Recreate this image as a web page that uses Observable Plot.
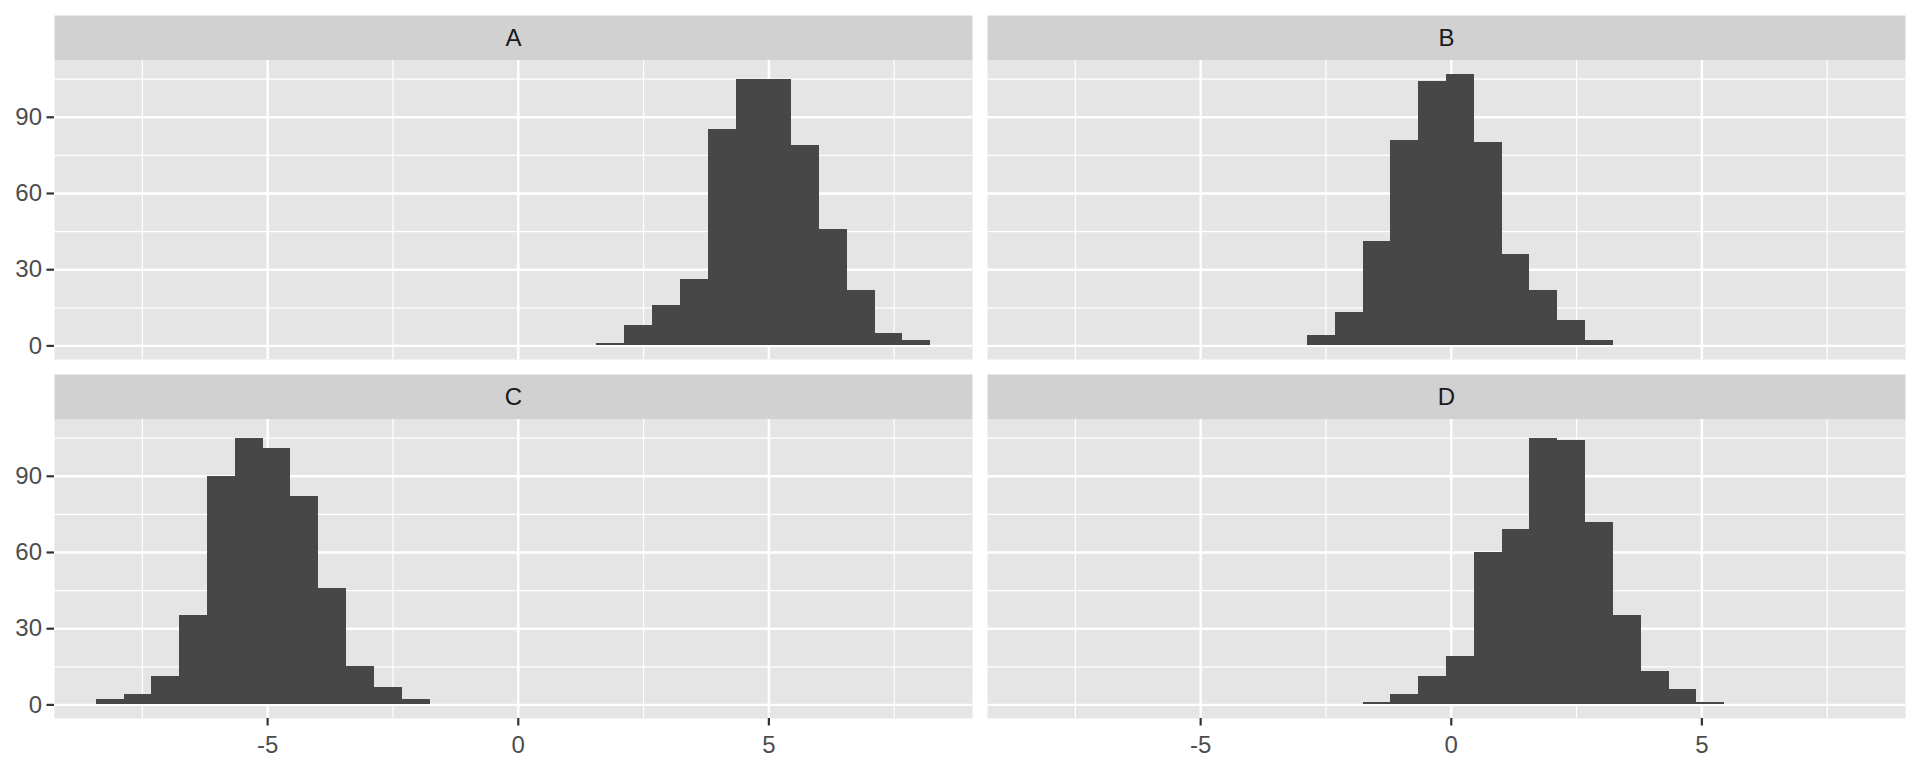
<!DOCTYPE html>
<html>
<head>
<meta charset="utf-8">
<script src="https://cdn.jsdelivr.net/npm/d3@7"></script>
<script src="https://cdn.jsdelivr.net/npm/@observablehq/plot@0.6"></script>
<style>
  html, body { margin: 0; padding: 0; background: #ffffff; }
  #chart svg { display: block; }
</style>
</head>
<body>
<div id="chart"></div>
<script>
// ---- data ----
const panels = ["A", "B", "C", "D"];
const panelCol = [0, 1, 0, 1];
const panelRow = [0, 0, 1, 1];

// shared histogram bin edges (30 bins)
const binEdges = [
  -8.420, -7.865, -7.310, -6.755, -6.200, -5.645, -5.090, -4.535, -3.980, -3.425,
  -2.870, -2.315, -1.760, -1.205, -0.650, -0.095, 0.460, 1.015, 1.570, 2.125,
  2.680, 3.235, 3.790, 4.345, 4.900, 5.455, 6.010, 6.565, 7.120, 7.675, 8.230
];

const countsA = [0,0,0,0,0,0,0,0,0,0, 0,0,0,0,0,0,0,0, 1,8,16,26,85,105,105,79,46,22,5,2];
const countsB = [0,0,0,0,0,0,0,0,0,0, 4,13,41,81,104,107,80,36,22,10,2, 0,0,0,0,0,0,0,0,0];
const countsC = [2,4,11,35,90,105,101,82,46,15,7,2, 0,0,0,0,0,0,0,0,0,0,0,0,0,0,0,0,0,0];
const countsD = [0,0,0,0,0,0,0,0,0,0,0,0, 1,4,11,19,60,69,105,104,72,35,13,6,1, 0,0,0,0,0];

const xTicks = [-5, 0, 5];
const xMinor = [-7.5, -2.5, 2.5, 7.5];
const yTicks = [0, 30, 60, 90];
const yMinor = [15, 45, 75, 105];

// ---- build tables ----
const countsByPanel = [countsA, countsB, countsC, countsD];
const bars = [];
panels.forEach((p, k) => {
  countsByPanel[k].forEach((c, i) => {
    if (c > 0) bars.push({panel: p, col: panelCol[k], row: panelRow[k], x1: binEdges[i], x2: binEdges[i + 1], count: c});
  });
});
const strips = panels.map((p, k) => ({panel: p, col: panelCol[k], row: panelRow[k]}));

// ggplot-like 5% expansion
const xLo = binEdges[0], xHi = binEdges[binEdges.length - 1];
const xPad = 0.05 * (xHi - xLo);
const yMax = d3.max(countsByPanel.flat());
const yPad = 0.05 * yMax;

// layout (pixels)
const W = 1920, H = 768;
const mL = 54, mR = 15, mT = 60, mB = 50;
const stripH = 45, gapX = 15;
const panelW = (W - mL - mR - gapX) / 2;         // 918
const panelH = (H - mT - mB - stripH - gapX) / 2; // 299

const FONT = "'Liberation Sans', Arial, Helvetica, sans-serif";
const plainFormat = d => `${d}`;

const chart = Plot.plot({
  width: W,
  height: H,
  marginLeft: mL,
  marginRight: mR,
  marginTop: mT,
  marginBottom: mB,
  style: {fontFamily: FONT, fontSize: "24px", background: "#ffffff", color: "#4D4D4D"},
  fx: {domain: [0, 1], padding: gapX / (panelW + gapX), axis: null, label: null},
  fy: {domain: [0, 1], padding: 1 - panelH / (panelH + stripH + gapX), axis: null, label: null},
  x: {domain: [xLo - xPad, xHi + xPad], label: null},
  y: {domain: [-yPad, yMax + yPad], label: null},
  marks: [
    // panel background
    Plot.frame({fill: "#E5E5E5", stroke: "none"}),
    // strip background
    Plot.frame({fill: "#D1D1D1", stroke: "none", insetTop: -stripH, insetBottom: panelH}),
    // grid
    Plot.gridX(xMinor, {stroke: "#ffffff", strokeOpacity: 1, strokeWidth: 1.2}),
    Plot.gridY(yMinor, {stroke: "#ffffff", strokeOpacity: 1, strokeWidth: 1.2}),
    Plot.gridX(xTicks, {stroke: "#ffffff", strokeOpacity: 1, strokeWidth: 2.4}),
    Plot.gridY(yTicks, {stroke: "#ffffff", strokeOpacity: 1, strokeWidth: 2.4}),
    // histogram bars
    Plot.rect(bars, {x1: "x1", x2: "x2", y1: 0, y2: "count", fx: "col", fy: "row", fill: "#474747", shapeRendering: "crispEdges"}),
    // strip labels
    Plot.text(strips, {fx: "col", fy: "row", text: "panel", frameAnchor: "top", dy: -stripH / 2, lineAnchor: "middle", fill: "#1A1A1A", fontSize: 24}),
    // axes
    Plot.axisX(xTicks, {anchor: "bottom", tickSize: 7.5, tickPadding: 9.5, tickFormat: plainFormat, stroke: "#333333", strokeWidth: 2.2, fill: "#4D4D4D", fontSize: 24, label: null}),
    Plot.axisY(yTicks, {anchor: "left", tickSize: 7.5, tickPadding: 5, tickFormat: plainFormat, stroke: "#333333", strokeWidth: 2.2, fill: "#4D4D4D", fontSize: 24, label: null})
  ]
});

document.getElementById("chart").appendChild(chart);
</script>
</body>
</html>
